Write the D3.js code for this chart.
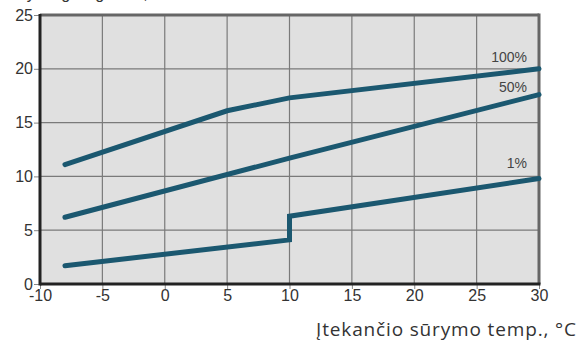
<!DOCTYPE html>
<html><head><meta charset="utf-8">
<script src="https://cdn.jsdelivr.net/npm/d3@7"></script>
<style>body{margin:0;background:#fff}svg{display:block}</style>
</head><body>
<svg id="c" width="584" height="342"></svg>
<script>
const xTicks = [-10,-5,0,5,10,15,20,25,30];
const yTicks = [0,5,10,15,20,25];
const series100 = [[-8,11.1],[5,16.1],[10,17.3],[30,20.0]];
const series50  = [[-8,6.2],[10,11.7],[30,17.6]];
const series1   = [[-8,1.7],[10,4.1],[10,6.3],[30,9.8]];
const seriesNames = ["100%","50%","1%"];
const labelPos = [[30,20.6],[30,17.8],[30,10.8]];
const xTitle = "Įtekančio sūrymo temp., °C";
const yTitle = "Šildymo galingumas, kW";

const svg = d3.select("#c");
const L=40,R=539,T=15,B=284;
const x = d3.scaleLinear().domain([-10,30]).range([L,R]);
const y = d3.scaleLinear().domain([0,25]).range([B,T]);

svg.append("rect").attr("x",L).attr("y",T).attr("width",R-L).attr("height",B-T).attr("fill","#e0e0e0");
// grid
svg.append("g").selectAll("line").data(xTicks.slice(1,-1)).join("line")
  .attr("x1",d=>x(d)).attr("x2",d=>x(d)).attr("y1",T).attr("y2",B)
  .attr("stroke","#7a7a7a").attr("stroke-width",1.2);
svg.append("g").selectAll("line").data(yTicks.slice(1,-1)).join("line")
  .attr("y1",d=>y(d)).attr("y2",d=>y(d)).attr("x1",L).attr("x2",R)
  .attr("stroke","#7a7a7a").attr("stroke-width",1.2);
// top/right border
svg.append("line").attr("x1",L).attr("x2",R).attr("y1",T).attr("y2",T).attr("stroke","#666").attr("stroke-width",3);
svg.append("line").attr("x1",R).attr("x2",R).attr("y1",T-1.5).attr("y2",B).attr("stroke","#666").attr("stroke-width",3);

const fmt = d => String(d);
// axes
const xa = svg.append("g").attr("transform",`translate(0,${B})`)
  .call(d3.axisBottom(x).tickValues(xTicks).tickFormat(fmt).tickSize(5).tickSizeOuter(0).tickPadding(1));
const ya = svg.append("g").attr("transform",`translate(${L},0)`)
  .call(d3.axisLeft(y).tickValues(yTicks).tickFormat(fmt).tickSize(6).tickSizeOuter(0).tickPadding(1));
[xa,ya].forEach(a=>{
  a.select(".domain").remove();
  a.selectAll(".tick line").attr("stroke","#888").attr("stroke-width",1);
  a.selectAll("text").attr("font-family","Liberation Sans, Arial, sans-serif").attr("font-size",16).attr("fill","#333");
});
// left/bottom border
svg.append("line").attr("x1",L).attr("x2",L).attr("y1",T-1).attr("y2",B+1.5).attr("stroke","#222").attr("stroke-width",3);
svg.append("line").attr("x1",L).attr("x2",R+1.5).attr("y1",B).attr("y2",B).attr("stroke","#222").attr("stroke-width",3);

const line = d3.line().x(d=>x(d[0])).y(d=>y(d[1]));
[series100,series50,series1].forEach(s=>{
  svg.append("path").attr("d",line(s)).attr("fill","none").attr("stroke","#1b5870")
    .attr("stroke-width",5).attr("stroke-linecap","round").attr("stroke-linejoin","miter");
});
svg.append("g").selectAll("text").data(seriesNames).join("text")
  .attr("x",(d,i)=>x(labelPos[i][0])-12).attr("y",(d,i)=>y(labelPos[i][1]))
  .attr("text-anchor","end").attr("font-family","Liberation Sans, Arial, sans-serif")
  .attr("font-size",14).attr("fill","#444").text(d=>d);

svg.append("text").attr("x",316).attr("y",336)
  .attr("font-family","Open Sans, sans-serif").attr("font-size",19).attr("fill","#333")
  .attr("textLength",260).attr("lengthAdjust","spacing").text(xTitle);
svg.append("text").attr("x",0).attr("y",-1).attr("font-family","Liberation Sans, Arial, sans-serif")
  .attr("font-size",16).attr("fill","#333").text(yTitle);
</script>
</body></html>
